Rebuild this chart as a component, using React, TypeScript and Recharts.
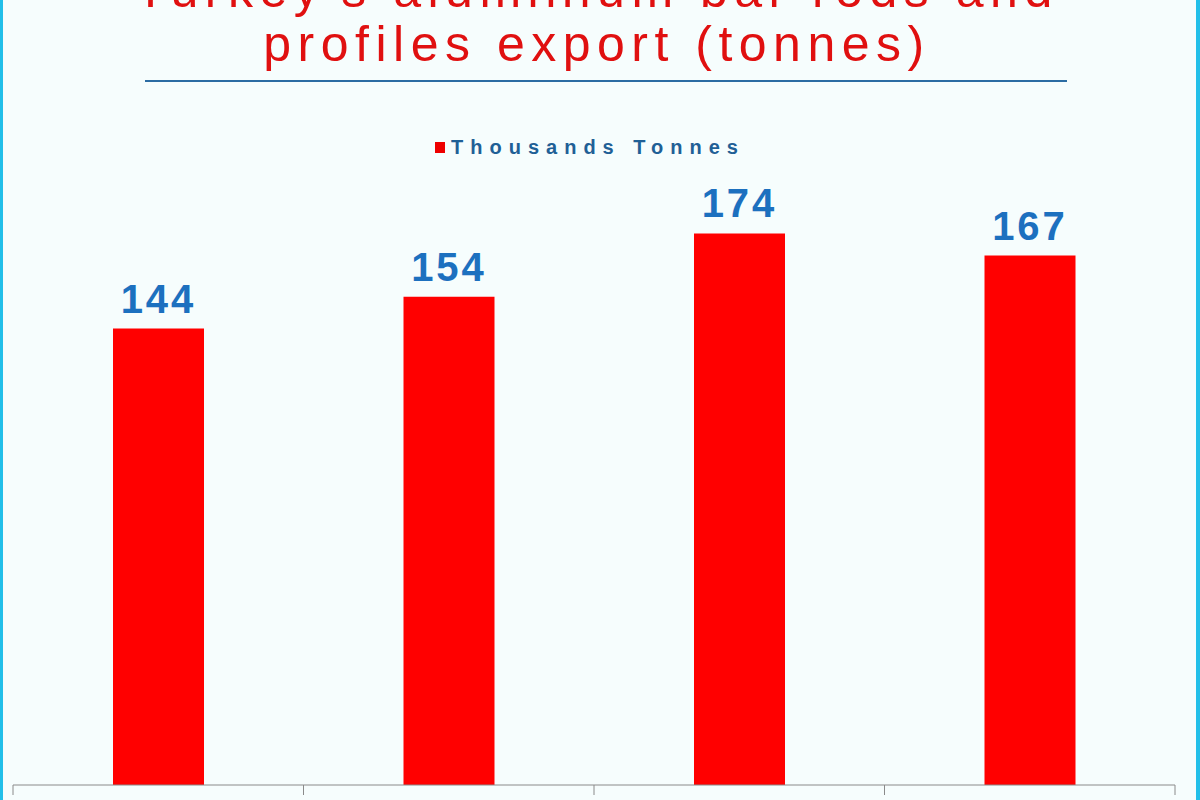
import { BarChart, Bar, XAxis, YAxis, LabelList, Legend } from "recharts";

const years = ["2011", "2012", "2013", "2014"];
const exportValues = [144, 154, 174, 167];
const seriesName = "Thousands Tonnes";
const titleLines = ["Turkey's aluminium bar rods and", "profiles export (tonnes)"];
const axisTicks = [0, 1, 2, 3, 4];

const data = years.map((year, i) => ({
  year,
  pos: i + 0.5,
  value: exportValues[i],
}));

const LegendContent = () => (
  <div style={{ display: "flex", justifyContent: "center", alignItems: "center", height: 20 }}>
    <span
      style={{
        display: "inline-block",
        width: 10,
        height: 11,
        background: "#ee0000",
        marginRight: 6,
      }}
    />
    <span
      style={{
        fontFamily: "Liberation Sans, Arial, sans-serif",
        fontWeight: "bold",
        fontSize: 20,
        letterSpacing: 7,
        color: "#1f6096",
        lineHeight: "20px",
      }}
    >
      {seriesName}
    </span>
  </div>
);

export default function App() {
  return (
    <div
      style={{
        position: "fixed",
        top: 0,
        left: 0,
        width: 1200,
        height: 800,
        overflow: "hidden",
        background: "#f6fdfd",
      }}
    >
      <div style={{ position: "absolute", left: 0, top: 0, width: 3, height: 800, background: "#22bfe9" }} />
      <div style={{ position: "absolute", right: 0, top: 0, width: 4, height: 800, background: "#22bfe9" }} />
      <svg
        width={1200}
        height={100}
        style={{ position: "absolute", left: 0, top: 0, pointerEvents: "none" }}
      >
        {titleLines.map((line, i) => (
          <text
            key={line}
            x={597}
            y={7 + i * 54}
            textAnchor="middle"
            fill="#e01010"
            fontFamily="Liberation Sans, Arial, sans-serif"
            fontSize={50}
            letterSpacing={6.5}
          >
            {line}
          </text>
        ))}
        <line x1={145} x2={1067} y1={81} y2={81} stroke="#2b6ca3" strokeWidth={2} />
      </svg>
      <div style={{ position: "absolute", left: 0, top: 0 }}>
        <BarChart
          width={1200}
          height={800}
          data={data}
          margin={{ top: 131, right: 25, bottom: 0, left: 13 }}
        >
          <XAxis
            type="number"
            dataKey="pos"
            domain={[0, 4]}
            ticks={axisTicks}
            tickFormatter={() => ""}
            height={15}
            tickSize={10}
            stroke="#8a8a8a"
            axisLine={{ stroke: "#8a8a8a" }}
            tickLine={{ stroke: "#8a8a8a" }}
          />
          <YAxis hide domain={[0, 200]} />
          <Legend
            verticalAlign="top"
            content={LegendContent}
            wrapperStyle={{ top: 137, left: 0, width: 1180 }}
          />
          <Bar dataKey="value" name={seriesName} fill="#ff0000" barSize={91} isAnimationActive={false}>
            <LabelList
              dataKey="value"
              position="top"
              offset={16}
              fill="#1c70bf"
              fontSize={40}
              fontWeight="bold"
              fontFamily="Liberation Sans, Arial, sans-serif"
              style={{ letterSpacing: 3 }}
            />
          </Bar>
        </BarChart>
      </div>
    </div>
  );
}
